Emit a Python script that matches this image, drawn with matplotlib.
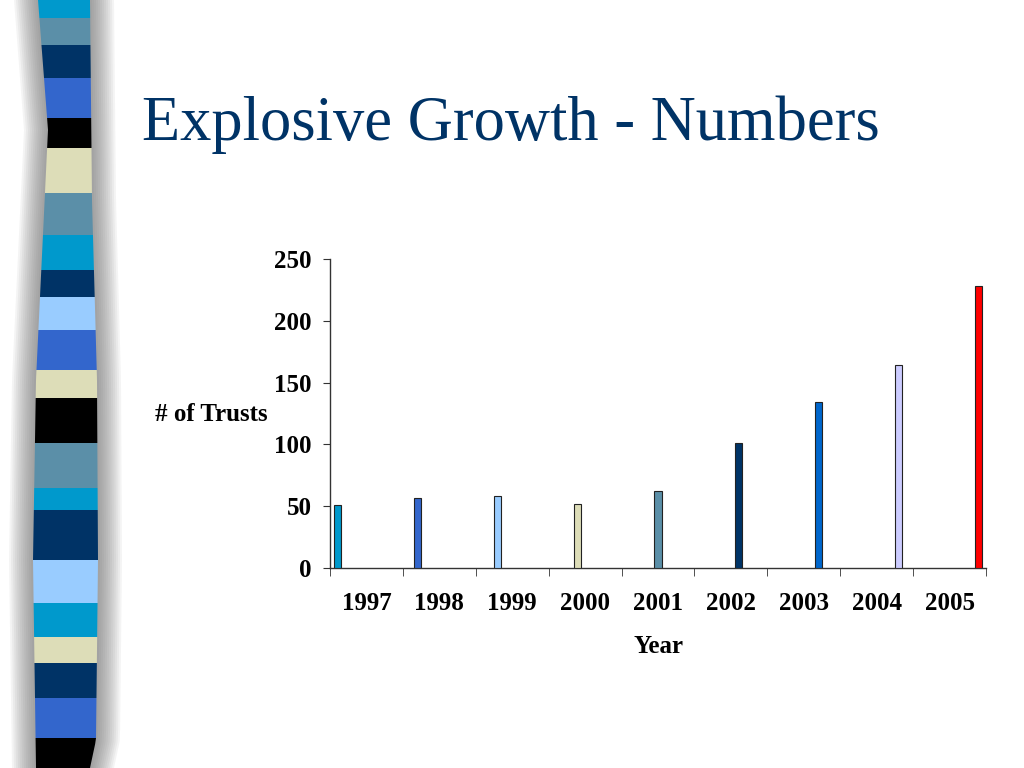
import numpy as np
import matplotlib
matplotlib.use("Agg")
import matplotlib.pyplot as plt
from matplotlib.patches import Polygon

# chart data
years = ["1997", "1998", "1999", "2000", "2001", "2002", "2003", "2004", "2005"]
trusts = [51, 57, 58, 52, 62, 101, 134, 164, 228]
bar_colors = ["#0099CC", "#3366CC", "#99CCFF", "#DDDDB8", "#5B8FA8",
              "#003366", "#0066CC", "#CCCCFF", "#FF0000"]
y_ticks = [0, 50, 100, 150, 200, 250]

# decorative stripe on the left side of the slide (pixel rows, colours)
stripe_breaks = [0, 18, 45, 78, 118, 148, 193, 235, 270, 297, 330, 370,
                 398, 443, 488, 510, 560, 603, 637, 663, 698, 738, 768]
stripe_colors = ["#0099CC", "#5B8FA8", "#003366", "#3366CC", "#000000",
                 "#DDDDB8", "#5B8FA8", "#0099CC", "#003366", "#99CCFF",
                 "#3366CC", "#DDDDB8", "#000000", "#5B8FA8", "#0099CC",
                 "#003366", "#99CCFF", "#0099CC", "#DDDDB8", "#003366",
                 "#3366CC", "#000000"]

W, H = 1024, 768
serif = ["Liberation Serif", "DejaVu Serif"]


def edge_left(y):
    return np.interp(y, [0, 130, 380, 560, 768], [38, 48, 36, 33, 36])


def edge_right(y):
    return np.interp(y, [0, 200, 380, 560, 740, 768], [90, 92, 97, 98, 96, 90])


def to_fig(pts):
    pts = pts / [W, H]
    pts[:, 1] = 1 - pts[:, 1]
    return pts


def draw_stripe(fig):
    # soft grey shadow around the stripe, built from many faint layers
    ys = np.linspace(0, H, 60)
    for grow in range(24, 0, -2):
        pts = np.vstack([np.column_stack([edge_left(ys) - grow, ys]),
                         np.column_stack([edge_right(ys) + grow, ys])[::-1]])
        fig.patches.append(Polygon(to_fig(pts), closed=True,
                                   facecolor="#6a6a6a", edgecolor="none",
                                   alpha=0.07, transform=fig.transFigure))
    for i, c in enumerate(stripe_colors):
        y0, y1 = stripe_breaks[i], stripe_breaks[i + 1]
        yb = np.linspace(y0, y1, 6)
        pts = np.vstack([np.column_stack([edge_left(yb), yb]),
                         np.column_stack([edge_right(yb), yb])[::-1]])
        fig.patches.append(Polygon(to_fig(pts), closed=True, facecolor=c,
                                   edgecolor="none",
                                   transform=fig.transFigure))


fig = plt.figure(figsize=(10.24, 7.68), dpi=100)
fig.patch.set_facecolor("white")
draw_stripe(fig)

# slide title
fig.text(142 / W, 1 - 140 / H, "Explosive Growth - Numbers", family=serif,
         fontsize=45, color="#003366", ha="left", va="baseline")

ax = fig.add_axes([330 / W, 1 - 568 / H, 656 / W, 309 / H])

# each year is its own series, like an Excel clustered chart
n = len(years)
w = 1.0 / (n + 1)
x = np.arange(n)
for i in range(n):
    ax.bar(x[i] + (i - (n - 1) / 2) * w, trusts[i], width=w,
           color=bar_colors[i], edgecolor="#222222", linewidth=0.8, zorder=3)

ax.set_xlim(-0.5, n - 0.5)
ax.set_ylim(0, 250)
ax.set_yticks(y_ticks)
ax.set_xticks(x)
ax.set_xticklabels(years)
ax.set_xticks(np.arange(-0.5, n, 1.0), minor=True)

for s in ["top", "right"]:
    ax.spines[s].set_visible(False)
for s in ["left", "bottom"]:
    ax.spines[s].set_color("#333333")
    ax.spines[s].set_linewidth(1.0)

ax.tick_params(axis="x", which="major", length=0, pad=17)
ax.tick_params(axis="x", which="minor", length=6, direction="out",
               color="#333333")
ax.tick_params(axis="y", length=5, direction="out", color="#333333", pad=8)
for lab in ax.get_xticklabels() + ax.get_yticklabels():
    lab.set_family(serif)
    lab.set_fontweight("bold")
    lab.set_fontsize(18)

ax.set_xlabel("Year", family=serif, fontweight="bold", fontsize=18,
              labelpad=15)
ax.set_ylabel("# of Trusts", family=serif, fontweight="bold", fontsize=18,
              rotation=0, ha="right", va="center")
ax.yaxis.set_label_coords(-0.095, 0.498)

fig.savefig("out.png", dpi=100)
